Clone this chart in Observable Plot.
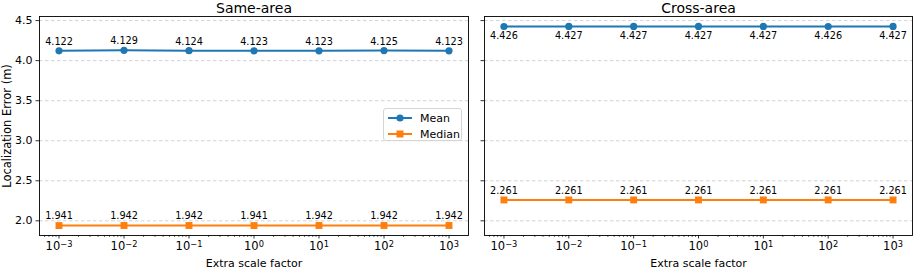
<!DOCTYPE html>
<html>
<head>
<meta charset="utf-8">
<script src="https://cdn.jsdelivr.net/npm/d3@7"></script>
<script src="https://cdn.jsdelivr.net/npm/@observablehq/plot@0.6"></script>
<style>
  html, body { margin: 0; padding: 0; background: #fff; }
  #wrap { position: relative; width: 913px; height: 270px; font-family: "DejaVu Sans", sans-serif; }
  #wrap > div.panel { position: absolute; top: 0; }
  #legend { position: absolute; left: 383px; top: 108px; width: 79px; height: 33px;
    border: 1px solid #d5d5d5; border-radius: 3px; background: rgba(255,255,255,0.85); box-sizing: border-box; }
  #legend .row { position: absolute; left: 0; height: 16px; display: flex; align-items: center; font-size: 11px; color: #000; }
  #legend svg { display: block; }
</style>
</head>
<body>
<div id="wrap">
  <div class="panel" id="left" style="left:0"></div>
  <div class="panel" id="right" style="left:476px"></div>
  <div id="legend"></div>
</div>
<script>
// ---- data ----
const scales = [0.001, 0.01, 0.1, 1, 10, 100, 1000];
const scaleExponents = ["−3", "−2", "−1", "0", "1", "2", "3"];
const sameMean   = [4.122, 4.129, 4.124, 4.123, 4.123, 4.125, 4.123];
const sameMedian = [1.941, 1.942, 1.942, 1.941, 1.942, 1.942, 1.942];
const crossMean   = [4.426, 4.427, 4.427, 4.427, 4.427, 4.426, 4.427];
const crossMedian = [2.261, 2.261, 2.261, 2.261, 2.261, 2.261, 2.261];
const yTicks = [2.0, 2.5, 3.0, 3.5, 4.0, 4.5];
const panelTitles = ["Same-area", "Cross-area"];
const seriesNames = ["Mean", "Median"];
const xLabel = "Extra scale factor";
const yLabel = "Localization Error (m)";

const blue = "#1f77b4", orange = "#ff7f0e";
const xDomain = [Math.pow(10, -3.3), Math.pow(10, 3.3)];
const yDomain = [1.817, 4.551];
const minorTicks = [];
for (let k = -4; k <= 3; k++) for (let m = 2; m <= 9; m++) {
  const v = m * Math.pow(10, k);
  if (v >= xDomain[0] && v <= xDomain[1]) minorTicks.push(v);
}
const expOf = v => scaleExponents[scales.findIndex(s => Math.abs(Math.log10(s) - Math.log10(v)) < 1e-6)] ?? "";
const fmtX = v => "10^" + expOf(v);

function rows(vals) { return scales.map((s, i) => ({x: s, y: vals[i]})); }

function panel({title, mean, median, meanDy, medianDy, showY, width, marginLeft, marginRight}) {
  const m = rows(mean), md = rows(median);
  const font = "DejaVu Sans";
  const svg = Plot.plot({
    width, height: 270,
    marginLeft, marginRight, marginTop: 16, marginBottom: 35,
    style: {fontFamily: font, background: "#fff", color: "#000"},
    x: {type: "log", domain: xDomain, axis: null},
    y: {domain: yDomain, axis: null},
    marks: [
      Plot.gridY(yTicks, {stroke: "#b0b0b0", strokeOpacity: 0.7, strokeDasharray: "3.5,2.5", strokeWidth: 0.8}),
      Plot.axisX(minorTicks, {tickSize: 2, tickFormat: () => "", strokeWidth: 0.6, label: null}),
      Plot.axisX(scales, {tickSize: 3.5, tickPadding: 3, tickFormat: fmtX, fontSize: 11.5, strokeWidth: 0.8, label: null}),
      Plot.axisY(yTicks, {tickSize: 3.5, tickPadding: 3.5, fontSize: 11, strokeWidth: 0.8, label: null,
        tickFormat: showY ? (d => d.toFixed(1)) : (() => "")}),
      Plot.line(m, {x: "x", y: "y", stroke: blue, strokeWidth: 2}),
      Plot.dot(m, {x: "x", y: "y", fill: blue, r: 3.6, symbol: "circle"}),
      Plot.line(md, {x: "x", y: "y", stroke: orange, strokeWidth: 2}),
      Plot.dot(md, {x: "x", y: "y", fill: orange, r: 3.9, symbol: "square"}),
      Plot.text(m, {x: "x", y: "y", text: d => d.y.toFixed(3), dy: meanDy, fontSize: 9.7, fill: "#000", lineAnchor: "middle"}),
      Plot.text(md, {x: "x", y: "y", text: d => d.y.toFixed(3), dy: medianDy, fontSize: 9.7, fill: "#000", lineAnchor: "middle"}),
      Plot.frame({stroke: "#000", strokeWidth: 0.9}),
      Plot.text([title], {frameAnchor: "top", dy: -8, fontSize: 14, fill: "#000", lineAnchor: "middle"}),
      Plot.text([xLabel], {frameAnchor: "bottom", dy: 28, fontSize: 11, fill: "#000", lineAnchor: "middle"}),
      showY ? Plot.text([yLabel], {frameAnchor: "left", dx: -32, rotate: -90, textAnchor: "middle", fontSize: 11.5, fill: "#000", lineAnchor: "middle"}) : null
    ]
  });
  // render exponents as real superscripts
  svg.querySelectorAll("text").forEach(t => {
    const s = t.textContent;
    if (s.startsWith("10^")) {
      const exp = s.slice(3);
      t.textContent = "10";
      const ts = document.createElementNS("http://www.w3.org/2000/svg", "tspan");
      ts.setAttribute("dy", "-0.42em");
      ts.setAttribute("font-size", "0.72em");
      ts.textContent = exp;
      t.append(ts);
    }
  });
  return svg;
}

document.getElementById("left").append(panel({
  title: panelTitles[0], mean: sameMean, median: sameMedian, meanDy: -9, medianDy: -9.5,
  showY: true, width: 476, marginLeft: 39, marginRight: 8
}));
document.getElementById("right").append(panel({
  title: panelTitles[1], mean: crossMean, median: crossMedian, meanDy: 9.5, medianDy: -9,
  showY: false, width: 437, marginLeft: 8, marginRight: 1
}));

// legend
const legend = document.getElementById("legend");
[[blue, "circle"], [orange, "square"]].forEach(([c, shape], i) => {
  const row = document.createElement("div");
  row.className = "row";
  row.style.top = (1 + i * 16) + "px";
  const ns = "http://www.w3.org/2000/svg";
  const svg = document.createElementNS(ns, "svg");
  svg.setAttribute("width", 36); svg.setAttribute("height", 16);
  const ln = document.createElementNS(ns, "line");
  ln.setAttribute("x1", 4); ln.setAttribute("x2", 28); ln.setAttribute("y1", 8); ln.setAttribute("y2", 8);
  ln.setAttribute("stroke", c); ln.setAttribute("stroke-width", 2);
  svg.append(ln);
  let mk;
  if (shape === "circle") {
    mk = document.createElementNS(ns, "circle");
    mk.setAttribute("cx", 16); mk.setAttribute("cy", 8); mk.setAttribute("r", 3.6);
  } else {
    mk = document.createElementNS(ns, "rect");
    mk.setAttribute("x", 12.5); mk.setAttribute("y", 4.5); mk.setAttribute("width", 7); mk.setAttribute("height", 7);
  }
  mk.setAttribute("fill", c);
  svg.append(mk);
  row.append(svg);
  const t = document.createElement("span");
  t.textContent = seriesNames[i];
  row.append(t);
  legend.append(row);
});
</script>
</body>
</html>
